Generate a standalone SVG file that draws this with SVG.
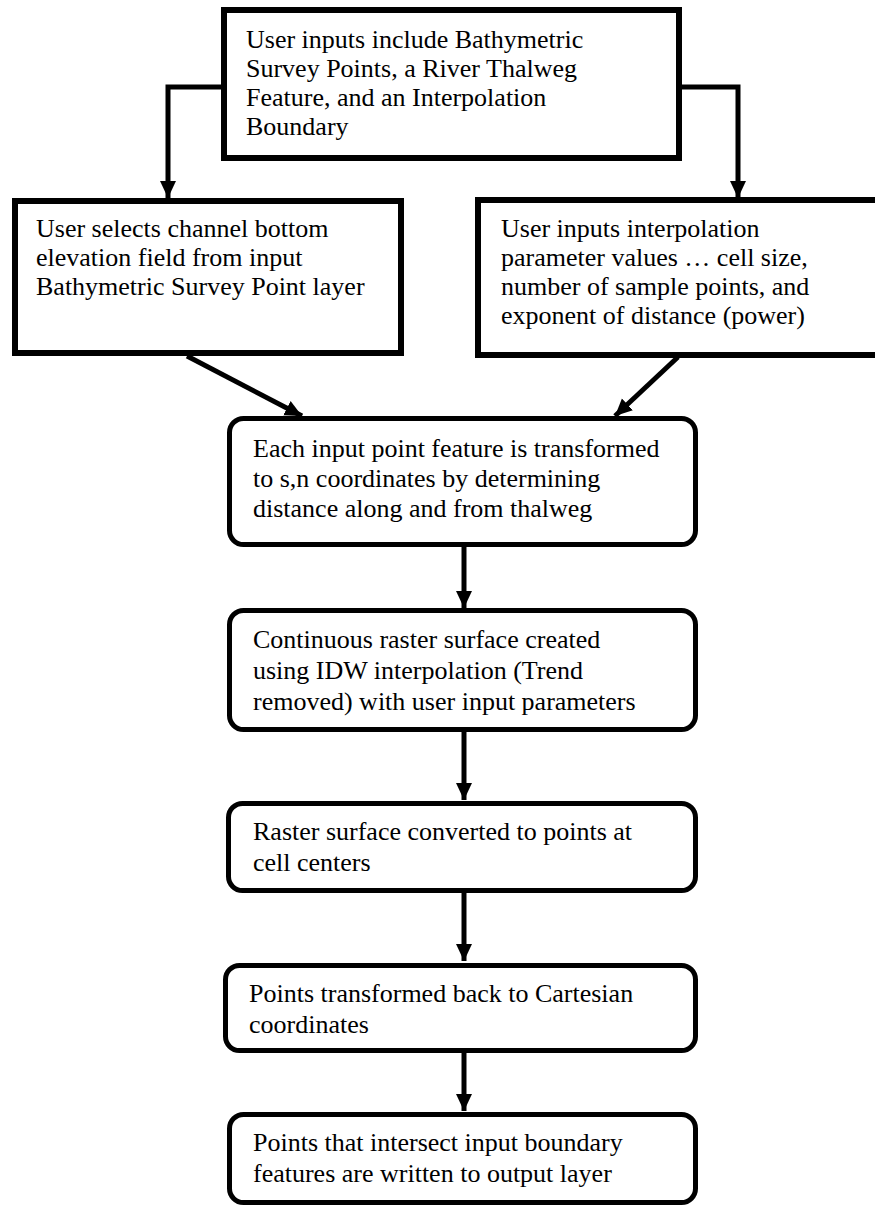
<svg xmlns="http://www.w3.org/2000/svg" width="875" height="1205" viewBox="0 0 875 1205">
<defs>
<style>
.box{fill:#fff;stroke:#000;stroke-width:6}
.rbox{fill:#fff;stroke:#000;stroke-width:5}
.t{font-family:"Liberation Serif","Times New Roman",Tinos,serif;font-size:26px;fill:#000}
.c{fill:none;stroke:#000;stroke-width:5}
</style>
<marker id="ah" markerUnits="userSpaceOnUse" markerWidth="18" markerHeight="18" refX="17" refY="8" orient="auto">
<path d="M0,0 L17,8 L0,16 z" fill="#000"/>
</marker>
</defs>
<rect width="875" height="1205" fill="#fff"/>
<g id="connectors">
<path class="c" d="M224,87 H168 V198" marker-end="url(#ah)"/>
<path class="c" d="M679,87 H738 V198" marker-end="url(#ah)"/>
<path class="c" d="M187,356 L302,416" marker-end="url(#ah)"/>
<path class="c" d="M678,357 L615,416" marker-end="url(#ah)"/>
<path class="c" d="M464,547 V608" marker-end="url(#ah)"/>
<path class="c" d="M464,732 V800" marker-end="url(#ah)"/>
<path class="c" d="M464,893 V961" marker-end="url(#ah)"/>
<path class="c" d="M464,1053 V1111" marker-end="url(#ah)"/>
</g>
<g id="n1">
<rect class="box" x="224" y="10" width="455" height="148"/>
<text class="t" x="246" y="48">User inputs include Bathymetric</text>
<text class="t" x="246" y="77">Survey Points, a River Thalweg</text>
<text class="t" x="246" y="106">Feature, and an Interpolation</text>
<text class="t" x="246" y="135">Boundary</text>
</g>
<g id="n2">
<rect class="box" x="15" y="201" width="386" height="152"/>
<text class="t" x="36" y="237">User selects channel bottom</text>
<text class="t" x="36" y="266">elevation field from input</text>
<text class="t" x="36" y="295">Bathymetric Survey Point layer</text>
</g>
<g id="n3">
<rect class="box" x="478" y="200" width="402" height="155"/>
<text class="t" x="501" y="237">User inputs interpolation</text>
<text class="t" x="501" y="266">parameter values … cell size,</text>
<text class="t" x="501" y="295">number of sample points, and</text>
<text class="t" x="501" y="324">exponent of distance (power)</text>
</g>
<g id="n4">
<rect class="rbox" x="229.5" y="418.5" width="466" height="126" rx="14"/>
<text class="t" x="253" y="457">Each input point feature is transformed</text>
<text class="t" x="253" y="487">to s,n coordinates by determining</text>
<text class="t" x="253" y="517">distance along and from thalweg</text>
</g>
<g id="n5">
<rect class="rbox" x="229.5" y="610.5" width="466" height="119" rx="14"/>
<text class="t" x="253" y="648">Continuous raster surface created</text>
<text class="t" x="253" y="679">using IDW interpolation (Trend</text>
<text class="t" x="253" y="710">removed) with user input parameters</text>
</g>
<g id="n6">
<rect class="rbox" x="228.5" y="803.5" width="467" height="87" rx="14"/>
<text class="t" x="253" y="840">Raster surface converted to points at</text>
<text class="t" x="253" y="871">cell centers</text>
</g>
<g id="n7">
<rect class="rbox" x="225.5" y="965.5" width="470" height="85" rx="14"/>
<text class="t" x="249" y="1002">Points transformed back to Cartesian</text>
<text class="t" x="249" y="1033">coordinates</text>
</g>
<g id="n8">
<rect class="rbox" x="229.5" y="1114.5" width="466" height="88" rx="14"/>
<text class="t" x="253" y="1151">Points that intersect input boundary</text>
<text class="t" x="253" y="1182">features are written to output layer</text>
</g>
</svg>
